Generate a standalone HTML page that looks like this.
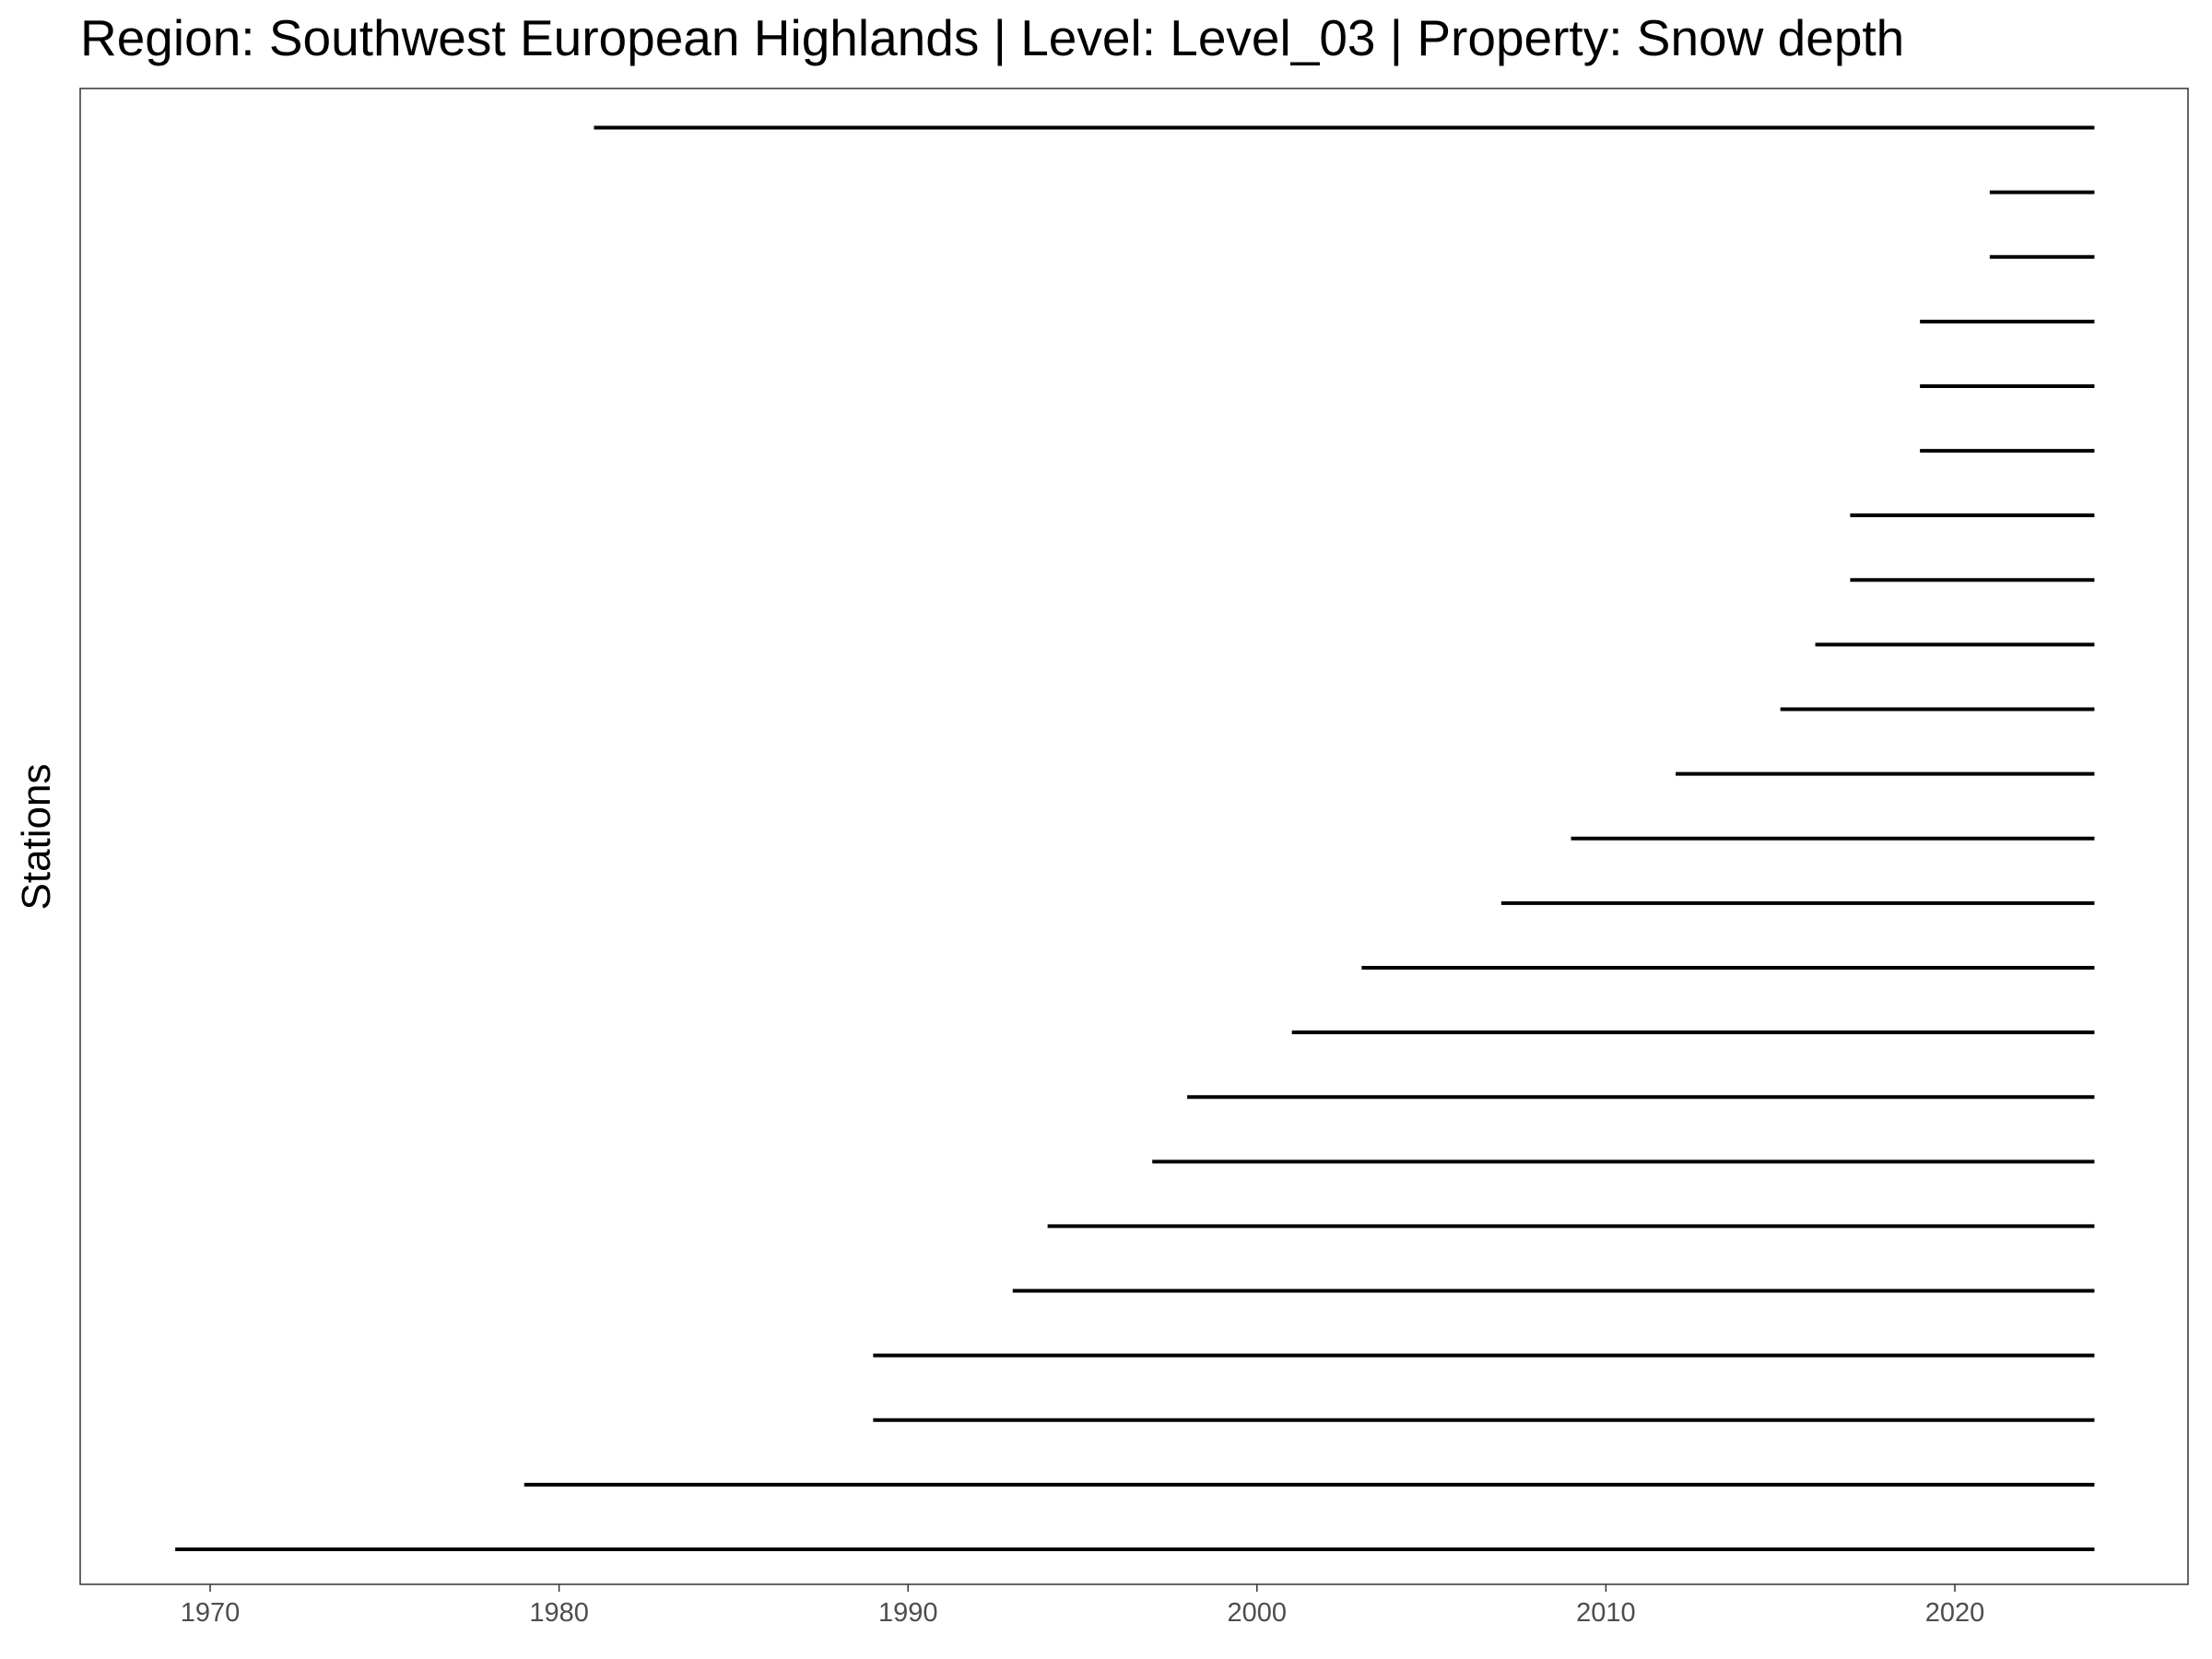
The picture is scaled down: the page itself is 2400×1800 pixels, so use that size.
<!DOCTYPE html>
<html><head><meta charset="utf-8"><style>
html,body{margin:0;padding:0;background:#fff;}
svg{display:block;font-family:"Liberation Sans",Arial,sans-serif;}
</style></head><body>
<svg id="chart" width="2400" height="1800" viewBox="0 0 2400 1800" xmlns="http://www.w3.org/2000/svg">
<rect width="2400" height="1800" fill="#fff"/>
<text x="87" y="60" font-size="55" fill="#000">Region: Southwest European Highlands | Level: Level_03 | Property: Snow depth</text>
<text transform="translate(54,908) rotate(-90)" text-anchor="middle" font-size="44" fill="#000">Stations</text>
<g id="marks"></g>
<rect x="87" y="96" width="2287" height="1623" fill="none" stroke="#333" stroke-width="1.5"/>
<g id="xaxis"></g>
</svg>
<script>
const startYears = [1981, 2021, 2021, 2019, 2019, 2019, 2017, 2017, 2016, 2015, 2012, 2009, 2007, 2003, 2001, 1998, 1997, 1994, 1993, 1989, 1989, 1979, 1969];
const endYears = [2024, 2024, 2024, 2024, 2024, 2024, 2024, 2024, 2024, 2024, 2024, 2024, 2024, 2024, 2024, 2024, 2024, 2024, 2024, 2024, 2024, 2024, 2024];
const xTicks = [1970, 1980, 1990, 2000, 2010, 2020];

const NS = "http://www.w3.org/2000/svg";
function xScale(v){ return 228 + (v - 1970) * (2121 - 228) / 50; }
const rowTop = 138.5, rowBottom = 1681;
function yScale(i){ return rowTop + i * (rowBottom - rowTop) / (startYears.length - 1); }

const marks = document.getElementById('marks');
startYears.forEach((s, i) => {
  const l = document.createElementNS(NS, 'line');
  l.setAttribute('x1', xScale(s));
  l.setAttribute('x2', xScale(endYears[i]));
  l.setAttribute('y1', yScale(i));
  l.setAttribute('y2', yScale(i));
  l.setAttribute('stroke', '#000');
  l.setAttribute('stroke-width', '4');
  
  
  marks.appendChild(l);
});

const xa = document.getElementById('xaxis');
xTicks.forEach(t => {
  const x = xScale(t);
  const tk = document.createElementNS(NS, 'line');
  tk.setAttribute('x1', x); tk.setAttribute('x2', x);
  tk.setAttribute('y1', 1719); tk.setAttribute('y2', 1727);
  tk.setAttribute('stroke', '#333'); tk.setAttribute('stroke-width', '1.5');
  
  
  xa.appendChild(tk);
  const tx = document.createElementNS(NS, 'text');
  tx.setAttribute('x', x); tx.setAttribute('y', 1759);
  tx.setAttribute('text-anchor', 'middle');
  tx.setAttribute('font-size', '29');
  tx.setAttribute('fill', '#4d4d4d');
  
  
  tx.textContent = t;
  xa.appendChild(tx);
});
</script>
</body></html>
